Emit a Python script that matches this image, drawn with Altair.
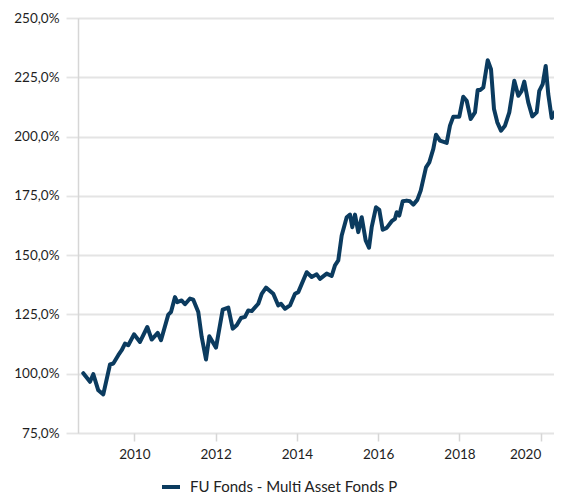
import altair as alt
import pandas as pd

SERIES = "FU Fonds - Multi Asset Fonds P"

years = [
    2008.745, 2008.910, 2008.991, 2009.114, 2009.237, 2009.402, 2009.483, 2009.606,
    2009.690, 2009.771, 2009.852, 2009.993, 2010.140, 2010.320, 2010.428, 2010.576,
    2010.657, 2010.836, 2010.903, 2011.001, 2011.058, 2011.166, 2011.247, 2011.370,
    2011.451, 2011.574, 2011.658, 2011.764, 2011.845, 2012.010, 2012.175, 2012.312,
    2012.421, 2012.519, 2012.625, 2012.723, 2012.804, 2012.888, 2013.050, 2013.134,
    2013.240, 2013.419, 2013.542, 2013.609, 2013.707, 2013.830, 2013.953, 2014.034,
    2014.241, 2014.364, 2014.487, 2014.568, 2014.733, 2014.856, 2014.937, 2015.018,
    2015.102, 2015.225, 2015.306, 2015.363, 2015.429, 2015.510, 2015.594, 2015.692,
    2015.774, 2015.840, 2015.946, 2016.027, 2016.111, 2016.209, 2016.332, 2016.413,
    2016.455, 2016.519, 2016.603, 2016.701, 2016.782, 2016.864, 2016.962, 2017.046,
    2017.176, 2017.257, 2017.356, 2017.422, 2017.520, 2017.685, 2017.766, 2017.848,
    2017.995, 2018.093, 2018.177, 2018.276, 2018.381, 2018.448, 2018.504, 2018.586,
    2018.694, 2018.775, 2018.849, 2018.930, 2019.021, 2019.119, 2019.225, 2019.348,
    2019.447, 2019.530, 2019.594, 2019.692, 2019.791, 2019.899, 2019.963, 2020.047,
    2020.121, 2020.184, 2020.268, 2020.391, 2020.514,
]

values = [
    100.2, 96.6, 99.8, 93.0, 91.3, 103.9, 104.3, 107.8,
    109.9, 112.7, 112.0, 116.6, 113.4, 119.7, 114.4, 117.2,
    114.1, 124.9, 126.0, 132.3, 130.2, 130.9, 129.3, 131.7,
    131.2, 126.0, 115.5, 106.0, 115.8, 111.0, 127.0, 127.9,
    119.0, 120.4, 123.5, 124.0, 126.7, 126.4, 129.5, 133.7,
    136.3, 133.7, 128.8, 129.5, 127.4, 128.8, 133.7, 134.4,
    142.8, 140.8, 141.9, 140.0, 142.2, 141.2, 145.7, 147.8,
    158.3, 166.0, 167.1, 161.8, 167.1, 159.7, 166.0, 156.2,
    153.1, 161.8, 170.2, 169.1, 160.7, 161.5, 164.3, 165.3,
    168.1, 166.7, 172.7, 173.0, 172.7, 171.3, 173.3, 177.2,
    187.0, 189.1, 194.8, 200.8, 198.3, 197.3, 204.6, 208.4,
    208.4, 216.8, 215.1, 207.4, 210.2, 219.6, 219.6, 220.7,
    232.2, 228.4, 211.6, 206.0, 202.5, 204.6, 210.2, 223.5,
    217.2, 219.3, 223.2, 214.4, 208.5, 210.2, 219.3, 222.1,
    229.8, 217.9, 207.8, 211.6, 224.2,
]

y_ticks = [75, 100, 125, 150, 175, 200, 225, 250]
x_ticks = [2010, 2012, 2014, 2016, 2018, 2020]

df = pd.DataFrame({"year": years, "value": values, "series": SERIES})

FONT = "Lato"
LINE_COLOR = "#0b3b5f"
GRID = "#e4e4e4"

chart = (
    alt.Chart(df)
    .mark_line(strokeWidth=4, strokeJoin="round", strokeCap="round", clip=True)
    .encode(
        x=alt.X(
            "year:Q",
            scale=alt.Scale(domain=[2008.615, 2020.325], nice=False, zero=False),
            axis=alt.Axis(
                values=x_ticks,
                format="d",
                grid=False,
                domain=False,
                ticks=True,
                tickSize=8,
                tickColor="#d6d6d6",
                tickWidth=1.5,
                labelPadding=6,
                labelFlush=16,
                labelFont=FONT,
                labelFontSize=13.5,
                labelColor="#1e1e1e",
                title=None,
            ),
        ),
        y=alt.Y(
            "value:Q",
            scale=alt.Scale(domain=[75, 250], nice=False, zero=False),
            axis=alt.Axis(
                values=y_ticks,
                labelExpr="replace(format(datum.value, '.1f'), '.', ',') + '%'",
                grid=True,
                gridColor=GRID,
                gridWidth=1.8,
                domain=True,
                domainColor="#d6d6d6",
                domainWidth=1.5,
                ticks=True,
                tickSize=12,
                tickColor=GRID,
                tickWidth=1.8,
                labelPadding=7,
                labelFont=FONT,
                labelFontSize=13.5,
                labelColor="#1e1e1e",
                title=None,
            ),
        ),
        color=alt.Color(
            "series:N",
            scale=alt.Scale(domain=[SERIES], range=[LINE_COLOR]),
            legend=alt.Legend(
                title=None,
                orient="none",
                legendX=82,
                legendY=458,
                symbolType="stroke",
                symbolSize=324,
                symbolStrokeWidth=4,
                labelFont=FONT,
                labelFontSize=15,
                labelColor="#222222",
                labelOffset=8,
                labelLimit=0,
                padding=0,
            ),
        ),
    )
    .properties(
        width=476,
        height=415,
        autosize=alt.AutoSizeParams(type="none"),
        padding={"left": 70, "top": 10, "right": 0, "bottom": 61},
    )
    .configure_view(stroke=None)
    .configure(background="white")
)

chart.save("out.html", embed_options={"renderer": "svg", "actions": False})
